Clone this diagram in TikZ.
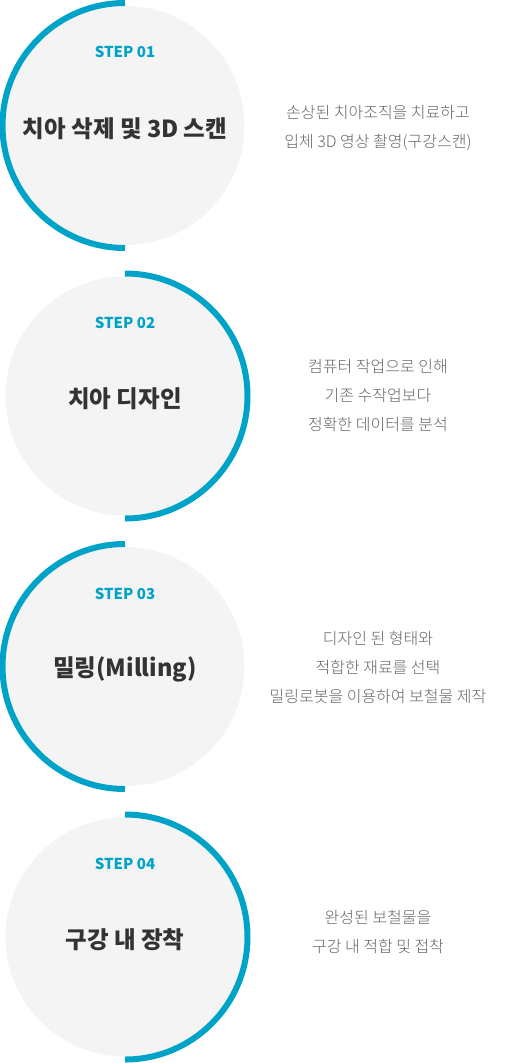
\documentclass[tikz,border=0pt]{standalone}
\usepackage{fontspec}
\setmainfont{Noto Sans CJK KR}
\newfontfamily\descfont{Noto Sans CJK KR Light}
\definecolor{stepblue}{HTML}{00A3C8}
\definecolor{discgray}{HTML}{F4F4F4}
\definecolor{titlegray}{HTML}{333333}
\definecolor{descgray}{HTML}{666666}
\tikzset{
  disc/.style={circle, fill=discgray, minimum size=239pt, inner sep=0pt},
  ringarc/.style={draw=stepblue, line width=6pt, line cap=butt},
  steplabel/.style={text=stepblue, font=\fontsize{15}{18}\selectfont\bfseries, inner sep=0pt},
  titlelabel/.style={text=titlegray, font=\fontsize{23.5}{28}\selectfont\bfseries, inner sep=0pt},
  desclabel/.style={text=descgray, font=\descfont\fontsize{16}{29}\selectfont, align=center, inner sep=0pt}
}
\begin{document}
\begin{tikzpicture}[x=1pt,y=-1pt]
\useasboundingbox (0,0) rectangle (521,1063);
% step 1
\node[disc] (c1) at (125,125.5) {};
\draw[ringarc] (c1.center) ++(0,-122.5) coordinate (t1) arc[start angle=-90, end angle=-270, radius=122.5];
\node[steplabel] (s1) at (125,52) {STEP 01};
\node[titlelabel] (h1) at (125,129) {치아 삭제 및 3D 스캔};
\node[desclabel] (d1) at (378,128) {손상된 치아조직을 치료하고\\입체 3D 영상 촬영(구강스캔)};
% step 2
\node[disc] (c2) at (125,396) {};
\draw[ringarc] (c2.center) ++(0,-122.5) coordinate (t2) arc[start angle=-90, end angle=90, radius=122.5];
\node[steplabel] (s2) at (125,323) {STEP 02};
\node[titlelabel] (h2) at (125,399) {치아 디자인};
\node[desclabel] (d2) at (378,396) {컴퓨터 작업으로 인해\\기존 수작업보다\\정확한 데이터를 분석};
% step 3
\node[disc] (c3) at (125,666.5) {};
\draw[ringarc] (c3.center) ++(0,-122.5) coordinate (t3) arc[start angle=-90, end angle=-270, radius=122.5];
\node[steplabel] (s3) at (125,593.5) {STEP 03};
\node[titlelabel] (h3) at (125,669.5) {밀링(Milling)};
\node[desclabel] (d3) at (378,667) {디자인 된 형태와\\적합한 재료를 선택\\밀링로봇을 이용하여 보철물 제작};
% step 4
\node[disc] (c4) at (125,937) {};
\draw[ringarc] (c4.center) ++(0,-122.5) coordinate (t4) arc[start angle=-90, end angle=90, radius=122.5];
\node[steplabel] (s4) at (125,864) {STEP 04};
\node[titlelabel] (h4) at (125,940) {구강 내 장착};
\node[desclabel] (d4) at (378,931.5) {완성된 보철물을\\구강 내 적합 및 접착};
\end{tikzpicture}
\end{document}
